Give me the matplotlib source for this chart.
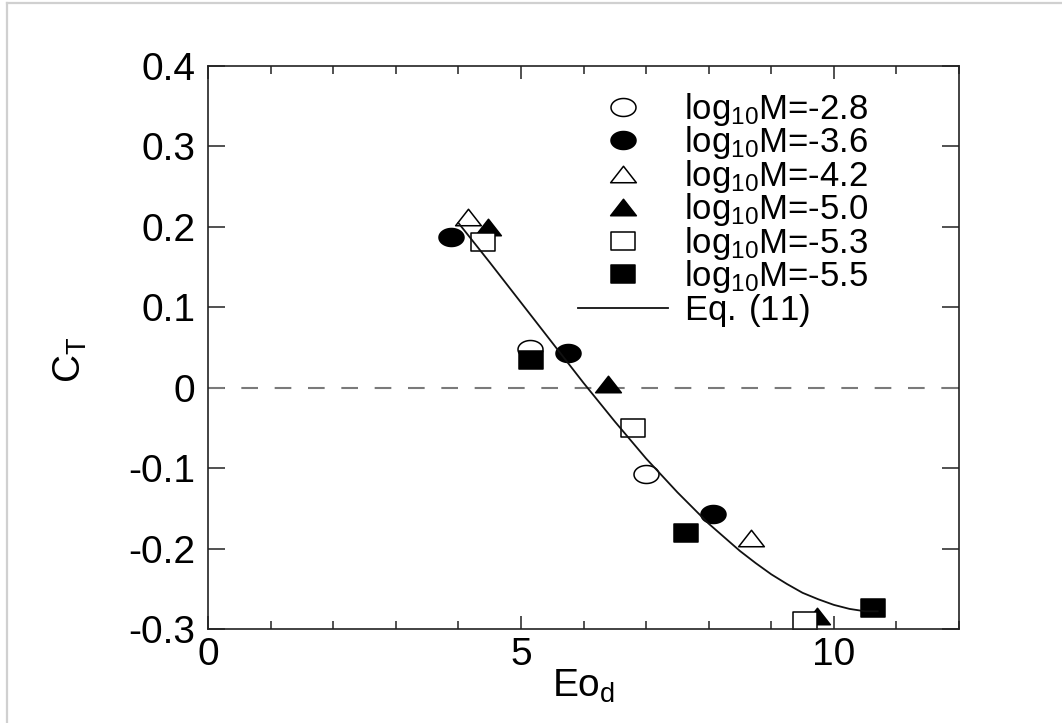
import numpy as np
import matplotlib
matplotlib.use('Agg')
import matplotlib.pyplot as plt
from matplotlib.path import Path
from matplotlib.lines import Line2D
from matplotlib.ticker import MultipleLocator

plt.rcParams['font.family'] = ['Liberation Sans', 'DejaVu Sans']
plt.rcParams['mathtext.fontset'] = 'custom'
plt.rcParams['mathtext.rm'] = 'Liberation Sans'
plt.rcParams['mathtext.it'] = 'Liberation Sans'
plt.rcParams['mathtext.bf'] = 'Liberation Sans'

# ---------------- data ----------------
labels = ['-2.8', '-3.6', '-4.2', '-5.0', '-5.3', '-5.5']

x_m28 = [5.14, 7.00]
y_m28 = [0.048, -0.107]

x_m36 = [3.88, 5.75, 8.07]
y_m36 = [0.187, 0.043, -0.157]

x_m42 = [4.15, 8.67]
y_m42 = [0.212, -0.187]

x_m50 = [4.47, 6.39, 9.73]
y_m50 = [0.200, 0.004, -0.284]

x_m53 = [4.39, 6.79, 9.54]
y_m53 = [0.181, -0.050, -0.290]

x_m55 = [5.16, 7.64, 10.62]
y_m55 = [0.034, -0.181, -0.274]

# Eq. (11) curve
eq_x = [4.0, 4.5, 5.0, 5.5, 6.0, 6.5, 7.0, 7.5, 8.0, 8.5, 8.75, 9.0, 9.25, 9.5,
        9.75, 10.0, 10.25, 10.5, 10.7]
eq_y = [0.205, 0.156, 0.106, 0.056, 0.006, -0.042, -0.088, -0.130, -0.169,
        -0.203, -0.218, -0.232, -0.244, -0.255, -0.263, -0.270, -0.275, -0.278, -0.278]

x_ticks_major = [0, 5, 10]
y_ticks = [-0.3, -0.2, -0.1, 0, 0.1, 0.2, 0.3, 0.4]
y_tick_labels = ['-0.3', '-0.2', '-0.1', '0', '0.1', '0.2', '0.3', '0.4']

# ---------------- marker shapes (horizontally widened) ----------------
def ellipse_marker(r=1.39):
    t = np.linspace(0, 2 * np.pi, 65)
    v = np.column_stack([r * np.cos(t), np.sin(t)])
    return Path(v, closed=True)

def tri_marker(r=1.56):
    v = np.array([[-r / 2, -0.5], [r / 2, -0.5], [0, 0.5], [-r / 2, -0.5]])
    return Path(v, closed=True)

def square_marker(r=1.41):
    v = np.array([[-r / 2, -0.5], [r / 2, -0.5], [r / 2, 0.5], [-r / 2, 0.5], [-r / 2, -0.5]])
    return Path(v, closed=True)

circ = ellipse_marker()
tri = tri_marker()
sq = square_marker()

series = [
    (x_m28, y_m28, circ, 'white', 18),
    (x_m36, y_m36, circ, 'black', 18),
    (x_m42, y_m42, tri, 'white', 18.5),
    (x_m50, y_m50, tri, 'black', 18.5),
    (x_m53, y_m53, sq, 'white', 17.5),
    (x_m55, y_m55, sq, 'black', 17.5),
]

W, H = 1062, 723
fig = plt.figure(figsize=(W / 100, H / 100), dpi=100)
fig.patch.set_facecolor('white')
ax = fig.add_axes([208 / W, 1 - 629 / H, (959 - 208) / W, (629 - 66) / H])

FS = 28
LFS = 25

ax.axhline(0, color='#7a7a7a', lw=1.5, dashes=(8, 8))

for (xs, ys, mk, fc, ms), lab in zip(series, labels):
    ax.plot(xs, ys, linestyle='none', marker=mk, ms=ms,
            mfc=fc, mec='black', mew=1.1,
            label=r'log$_\mathregular{10}$M=' + lab)

ax.plot(eq_x, eq_y, color='#111111', lw=1.3, label=r'$\mathregular{Eq.\:(11)}$')

ax.set_xlim(0, 12)
ax.set_ylim(-0.3, 0.4)
ax.set_xticks(x_ticks_major)
ax.set_xticklabels([str(v) for v in x_ticks_major])
ax.xaxis.set_minor_locator(MultipleLocator(1))
ax.set_yticks(y_ticks)
ax.set_yticklabels(y_tick_labels)

for s in ax.spines.values():
    s.set_linewidth(1.2)
    s.set_color('#222222')

ax.tick_params(axis='both', which='both', direction='in', top=True, right=True,
               colors='#222222', labelcolor='black', width=1.1, labelsize=FS)
ax.tick_params(axis='x', which='major', length=9.5, pad=6)
ax.tick_params(axis='x', which='minor', length=5.8)
ax.tick_params(axis='y', which='major', length=12, pad=9)

ax.set_xlabel(r'Eo$_\mathregular{d}$', fontsize=FS)
ax.set_ylabel(r'C$_\mathregular{T}$', fontsize=FS)
ax.xaxis.set_label_coords(0.5, -0.068)
ax.yaxis.set_label_coords(-0.158, 0.478)

leg = ax.legend(loc='upper left', bbox_to_anchor=((578 - 208) / 751, 0.956),
                frameon=False, fontsize=LFS, handlelength=2.6, handletextpad=0.45,
                labelspacing=-0.1, borderpad=0, borderaxespad=0, numpoints=1)

# light grey frame lines at top and left of the picture
fig.add_artist(Line2D([7 / W, 1], [1 - 3 / H, 1 - 3 / H], transform=fig.transFigure,
                      color='#d0d0d0', lw=1.6))
fig.add_artist(Line2D([7 / W, 7 / W], [0, 1 - 3 / H], transform=fig.transFigure,
                      color='#d0d0d0', lw=1.6))

fig.savefig('out.png', dpi=100, facecolor='white')
